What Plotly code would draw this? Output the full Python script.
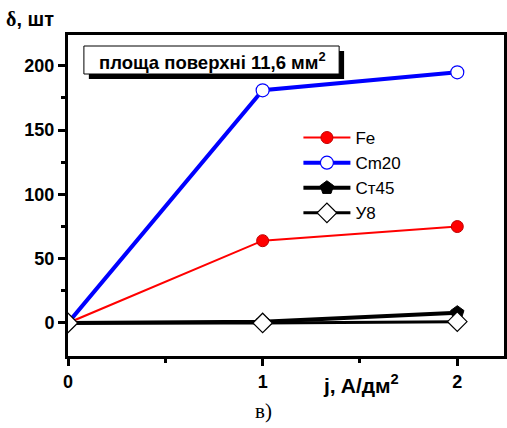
import plotly.graph_objects as go

x_vals = [0, 1, 2]
fe = [0, 64, 75]
cm20 = [0, 181, 195]
st45 = [0, 1, 8]
u8 = [0, 0, 1]
names = ["Fe", "Cm20", "Ст45", "У8"]

W, H = 507, 428
ML, MR, MT, MB = 68, 0, 35, 72
PW, PH = W - ML - MR, H - MT - MB

def px(x):
    return (x - ML) / PW

def py(y):
    return (H - MB - y) / PH

fig = go.Figure()
fig.add_trace(go.Scatter(x=x_vals, y=fe, name=names[0], mode="lines+markers",
                         line=dict(color="red", width=2),
                         marker=dict(symbol="circle", size=12, color="red",
                                     line=dict(color="#c00000", width=1))))
fig.add_trace(go.Scatter(x=x_vals, y=cm20, name=names[1], mode="lines+markers",
                         line=dict(color="blue", width=4),
                         marker=dict(symbol="circle", size=13, color="white",
                                     line=dict(color="blue", width=1.2))))
fig.add_trace(go.Scatter(x=x_vals, y=st45, name=names[2], mode="lines+markers",
                         line=dict(color="black", width=4),
                         marker=dict(symbol="pentagon", size=14, color="black",
                                     line=dict(color="black", width=1))))
fig.add_trace(go.Scatter(x=x_vals, y=u8, name=names[3], mode="lines+markers",
                         line=dict(color="black", width=3),
                         marker=dict(symbol="diamond", size=15, color="white",
                                     line=dict(color="black", width=1.2))))

axis_common = dict(showline=True, linecolor="black", linewidth=3, mirror=True,
                   ticks="outside", tickwidth=3, ticklen=7, tickcolor="black",
                   showgrid=False, zeroline=False,
                   tickfont=dict(family="Liberation Sans", size=18, color="black", weight="bold"))

fig.update_xaxes(range=[0, 2.24], tickvals=[0, 1, 2],
                 minor=dict(tickvals=[0.5, 1.5], ticks="outside", ticklen=4, tickwidth=3, tickcolor="black"),
                 **axis_common)
fig.update_yaxes(range=[-25.7, 224], tickvals=[0, 50, 100, 150, 200],
                 minor=dict(tickvals=[25, 75, 125, 175], ticks="outside", ticklen=4, tickwidth=3, tickcolor="black"),
                 **axis_common)

# shadow of the text box
fig.add_shape(type="rect", xref="paper", yref="paper",
              x0=px(89), x1=px(346), y0=py(79), y1=py(51),
              fillcolor="black", line=dict(width=0))
fig.add_shape(type="rect", xref="paper", yref="paper",
              x0=px(84), x1=px(341), y0=py(74), y1=py(46),
              fillcolor="white", line=dict(color="black", width=1))
fig.add_annotation(xref="paper", yref="paper", x=px(213), y=py(61),
                   xanchor="center", yanchor="middle",
                   text="площа поверхні 11,6 мм<sup>2</sup>", showarrow=False,
                   font=dict(family="Liberation Sans", size=18.5, color="black", weight="bold"))

fig.add_annotation(xref="paper", yref="paper", x=px(4), y=py(6), xanchor="left", yanchor="top",
                   text="<span style='font-family:Liberation Serif'>δ</span>, шт", showarrow=False,
                   font=dict(family="Liberation Sans", size=20, color="black", weight="bold"))
fig.add_annotation(xref="paper", yref="paper", x=px(363), y=py(384), xanchor="center", yanchor="middle",
                   text="j, A/дм<sup>2</sup>", showarrow=False,
                   font=dict(family="Liberation Sans", size=21, color="black", weight="bold"))
fig.add_annotation(xref="paper", yref="paper", x=px(265), y=py(411), xanchor="center", yanchor="middle",
                   text="в)", showarrow=False,
                   font=dict(family="Liberation Serif", size=21, color="black"))

fig.update_layout(width=W, height=H, margin=dict(l=ML, r=MR, t=MT, b=MB),
                  paper_bgcolor="white", plot_bgcolor="white",
                  legend=dict(x=px(300), y=py(120), xanchor="left", yanchor="top",
                              bgcolor="rgba(0,0,0,0)", tracegroupgap=0, itemwidth=47,
                              font=dict(family="Liberation Sans", size=17, color="black")),
                  showlegend=True)

fig.write_html("out.html")
